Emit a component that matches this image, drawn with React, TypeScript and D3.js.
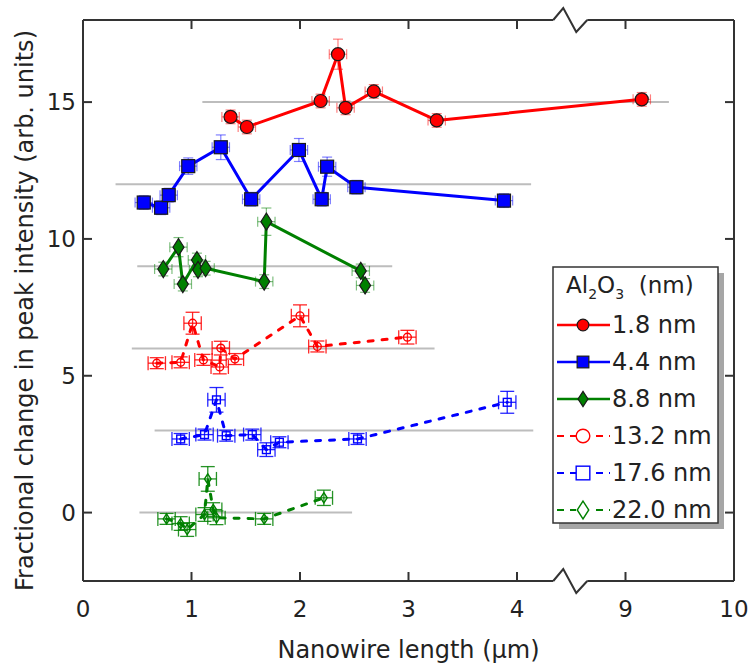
import React from 'react';
import * as d3 from 'd3';

const W = 751;
const H = 671;
const FONT = "'DejaVu Sans', sans-serif";

// ---- data ----
const xTickValues = [1, 2, 3, 4, 9];
const xTickLabels = [0, 1, 2, 3, 4, 9, 10];
const yTickValues = [0, 5, 10, 15];

const refY = [15, 12, 9, 6, 3, 0];
const refStart = [1.1, 0.3, 0.5, 0.45, 0.66, 0.52];
const refEnd = [9.4, 4.13, 2.85, 3.24, 4.15, 2.48];

const red18X = [1.36, 1.51, 2.19, 2.35, 2.42, 2.68, 3.26, 9.15];
const red18Y = [14.46, 14.09, 15.04, 16.75, 14.79, 15.39, 14.33, 15.1];
const red18Err = [0.25, 0.25, 0.25, 0.55, 0.25, 0.25, 0.25, 0.25];

const blue44X = [0.56, 0.72, 0.79, 0.97, 1.27, 1.55, 1.99, 2.2, 2.25, 2.52, 3.88];
const blue44Y = [11.33, 11.14, 11.6, 12.66, 13.35, 11.45, 13.25, 11.45, 12.64, 11.89, 11.4];
const blue44Err = [0.25, 0.25, 0.25, 0.3, 0.45, 0.25, 0.42, 0.25, 0.35, 0.25, 0.25];

const green88X = [0.74, 0.88, 0.92, 1.05, 1.06, 1.13, 1.67, 1.69, 2.56, 2.6];
const green88Y = [8.9, 9.7, 8.35, 9.23, 8.87, 8.93, 8.44, 10.63, 8.83, 8.3];
const green88Err = [0.25, 0.35, 0.25, 0.25, 0.25, 0.25, 0.25, 0.5, 0.25, 0.25];

const red132X = [0.68, 0.9, 1.01, 1.11, 1.26, 1.27, 1.4, 2.0, 2.16, 2.99];
const red132Y = [5.46, 5.49, 6.92, 5.58, 5.32, 6.01, 5.61, 7.19, 6.07, 6.41];
const red132Err = [0.2, 0.2, 0.4, 0.2, 0.25, 0.25, 0.2, 0.4, 0.2, 0.25];

const blue176X = [0.9, 1.12, 1.23, 1.32, 1.56, 1.69, 1.81, 2.53, 3.91];
const blue176Y = [2.69, 2.85, 4.12, 2.81, 2.85, 2.3, 2.57, 2.69, 4.03];
const blue176Err = [0.2, 0.2, 0.45, 0.2, 0.2, 0.25, 0.2, 0.2, 0.4];

const green220X = [0.77, 0.9, 0.96, 1.12, 1.15, 1.2, 1.23, 1.67, 2.22];
const green220Y = [-0.23, -0.4, -0.62, -0.07, 1.23, 0.11, -0.19, -0.23, 0.54];
const green220Err = [0.2, 0.25, 0.25, 0.25, 0.45, 0.25, 0.25, 0.2, 0.28];

const seriesLabels = ['1.8 nm', '4.4 nm', '8.8 nm', '13.2 nm', '17.6 nm', '22.0 nm'];
const X_ERR = 0.08;

type Series = {
  label: string; xs: number[]; ys: number[]; err: number[];
  color: string; marker: 'circle' | 'square' | 'diamond'; dashed: boolean;
};

const series: Series[] = [
  { label: seriesLabels[0], xs: red18X, ys: red18Y, err: red18Err, color: '#ff0000', marker: 'circle', dashed: false },
  { label: seriesLabels[1], xs: blue44X, ys: blue44Y, err: blue44Err, color: '#0000ff', marker: 'square', dashed: false },
  { label: seriesLabels[2], xs: green88X, ys: green88Y, err: green88Err, color: '#008000', marker: 'diamond', dashed: false },
  { label: seriesLabels[3], xs: red132X, ys: red132Y, err: red132Err, color: '#ff0000', marker: 'circle', dashed: true },
  { label: seriesLabels[4], xs: blue176X, ys: blue176Y, err: blue176Err, color: '#0000ff', marker: 'square', dashed: true },
  { label: seriesLabels[5], xs: green220X, ys: green220Y, err: green220Err, color: '#008000', marker: 'diamond', dashed: true },
];

// ---- layout ----
const L = 83, R = 734, T = 20, B = 581;
const BREAK = 4.5;
const u = d3.scaleLinear().domain([0, 6]).range([L, R]);
const xs = (x: number) => u(x <= BREAK ? x : x - 4);
const ys = d3.scaleLinear().domain([-2.5, 18]).range([B, T]);

function Marker({ kind, x, y, color, hollow, s = 1 }: { kind: string; x: number; y: number; color: string; hollow: boolean; s?: number }) {
  const fill = hollow ? 'none' : color;
  const stroke = hollow ? color : '#1a1a1a';
  const sw = hollow ? 1.4 : 1.2;
  if (kind === 'circle') return <circle cx={x} cy={y} r={6.5 * s} fill={fill} stroke={stroke} strokeWidth={sw} />;
  if (kind === 'square') { const h = 6.5 * s; return <rect x={x - h} y={y - h} width={2 * h} height={2 * h} fill={fill} stroke={stroke} strokeWidth={sw} />; }
  const w = 5.5 * s, hh = 8.5 * s;
  return <path d={`M${x},${y - hh}L${x + w},${y}L${x},${y + hh}L${x - w},${y}Z`} fill={fill} stroke={stroke} strokeWidth={sw} />;
}

function ErrBars({ s }: { s: Series }) {
  const cap = s.dashed ? 7 : 5;
  return (
    <g stroke={s.color} strokeOpacity={s.dashed ? 0.85 : 0.5} strokeWidth={s.dashed ? 1.3 : 1.2} fill="none">
      {s.xs.map((x, i) => {
        const cx = xs(x), cy = ys(s.ys[i]);
        const y1 = ys(s.ys[i] + s.err[i]), y2 = ys(s.ys[i] - s.err[i]);
        const x1 = xs(x - X_ERR), x2 = xs(x + X_ERR);
        return (
          <g key={i}>
            <line x1={cx} x2={cx} y1={y1} y2={y2} />
            <line x1={cx - cap} x2={cx + cap} y1={y1} y2={y1} />
            <line x1={cx - cap} x2={cx + cap} y1={y2} y2={y2} />
            <line x1={x1} x2={x2} y1={cy} y2={cy} />
            <line x1={x1} x2={x1} y1={cy - cap} y2={cy + cap} />
            <line x1={x2} x2={x2} y1={cy - cap} y2={cy + cap} />
          </g>
        );
      })}
    </g>
  );
}

export default function App() {
  const axisColor = '#333333';
  const bx = xs(BREAK);
  const zig = (y0: number) => `M${bx - 18},${y0}L${bx - 8},${y0 - 12}L${bx + 5},${y0 + 12}L${bx + 16},${y0}`;
  const legX = 553, legY = 267, legW = 165, legH = 256;
  const rowY = [325, 362, 399, 436, 473, 510];

  return (
    <svg width={W} height={H} style={{ position: 'absolute', left: 0, top: 0, background: 'white' }} fontFamily={FONT}>
      <rect width={W} height={H} fill="white" />
      {/* reference lines */}
      {refY.map((v, i) => (
        <line key={i} x1={xs(refStart[i])} x2={xs(refEnd[i])} y1={ys(v)} y2={ys(v)} stroke="#bdbdbd" strokeWidth={2} />
      ))}
      {/* lines */}
      {series.map((s, i) => {
        const pts = s.xs.map((x, j) => [xs(x), ys(s.ys[j])] as [number, number]);
        const p = d3.line()(pts) || '';
        return (
          <path key={i} d={p} fill="none" stroke={s.color} strokeWidth={3}
            strokeDasharray={s.dashed ? '5,9' : undefined} strokeLinecap={s.dashed ? 'round' : 'butt'} strokeLinejoin="round" />
        );
      })}
      {/* error bars */}
      {series.map((s, i) => <ErrBars key={i} s={s} />)}
      {/* markers */}
      {series.map((s, i) => (
        <g key={i}>
          {s.xs.map((x, j) => (
            <Marker key={j} kind={s.marker} x={xs(x)} y={ys(s.ys[j])} color={s.color} hollow={s.dashed} s={s.dashed ? 0.6 : 1} />
          ))}
        </g>
      ))}

      {/* frame */}
      <g stroke={axisColor} strokeWidth={2} fill="none">
        <line x1={L} x2={L} y1={T} y2={B} />
        <line x1={R} x2={R} y1={T} y2={B} />
        <line x1={L} x2={bx - 18} y1={T} y2={T} />
        <line x1={bx + 16} x2={R} y1={T} y2={T} />
        <line x1={L} x2={bx - 18} y1={B} y2={B} />
        <line x1={bx + 16} x2={R} y1={B} y2={B} />
        <path d={zig(T)} />
        <path d={zig(B)} />
        {xTickValues.map((v) => (
          <g key={v}>
            <line x1={xs(v)} x2={xs(v)} y1={B} y2={B - 9} />
            <line x1={xs(v)} x2={xs(v)} y1={T} y2={T + 9} />
          </g>
        ))}
        {yTickValues.map((v) => (
          <g key={v}>
            <line x1={L} x2={L + 9} y1={ys(v)} y2={ys(v)} />
            <line x1={R} x2={R - 9} y1={ys(v)} y2={ys(v)} />
          </g>
        ))}
      </g>
      {/* tick labels */}
      <g fontSize={23} fill="#222">
        {xTickLabels.map((v) => (
          <text key={v} x={xs(v)} y={617} textAnchor="middle">{v}</text>
        ))}
        {yTickValues.map((v) => (
          <text key={v} x={L - 7} y={ys(v)} textAnchor="end" dominantBaseline="central">{v}</text>
        ))}
      </g>
      {/* axis titles */}
      <text x={(L + R) / 2} y={658} textAnchor="middle" fontSize={24} fill="#222">Nanowire length (µm)</text>
      <text transform={`translate(33,${(T + B) / 2 + 10}) rotate(-90)`} textAnchor="middle" fontSize={24} fill="#222">
        Fractional change in peak intensity (arb. units)
      </text>

      {/* legend */}
      <rect x={legX + 6} y={legY + 6} width={legW} height={legH} fill="#a6a6a6" />
      <rect x={legX} y={legY} width={legW} height={legH} fill="white" stroke={axisColor} strokeWidth={1.5} />
      <text x={566} y={293} fontSize={23} fill="#222">
        <tspan>Al</tspan>
        <tspan fontSize={14} dy={6}>2</tspan>
        <tspan dy={-6}>O</tspan>
        <tspan fontSize={14} dy={6}>3</tspan>
        <tspan dy={-6}>{'\u00a0\u00a0(nm)'}</tspan>
      </text>
      {series.map((s, i) => (
        <g key={i}>
          <line x1={557} x2={610} y1={rowY[i]} y2={rowY[i]} stroke={s.color} strokeWidth={s.dashed ? 2 : 2.5}
            strokeDasharray={s.dashed ? '7,6' : undefined} />
          {s.dashed && <rect x={576} y={rowY[i] - 9} width={15} height={18} fill="white" />}
          <Marker kind={s.marker} x={583} y={rowY[i]} color={s.color} hollow={s.dashed} s={s.dashed ? 1.05 : 0.9} />
          <text x={612} y={rowY[i]} dominantBaseline="central" fontSize={24} fill="#222">{s.label}</text>
        </g>
      ))}
    </svg>
  );
}
